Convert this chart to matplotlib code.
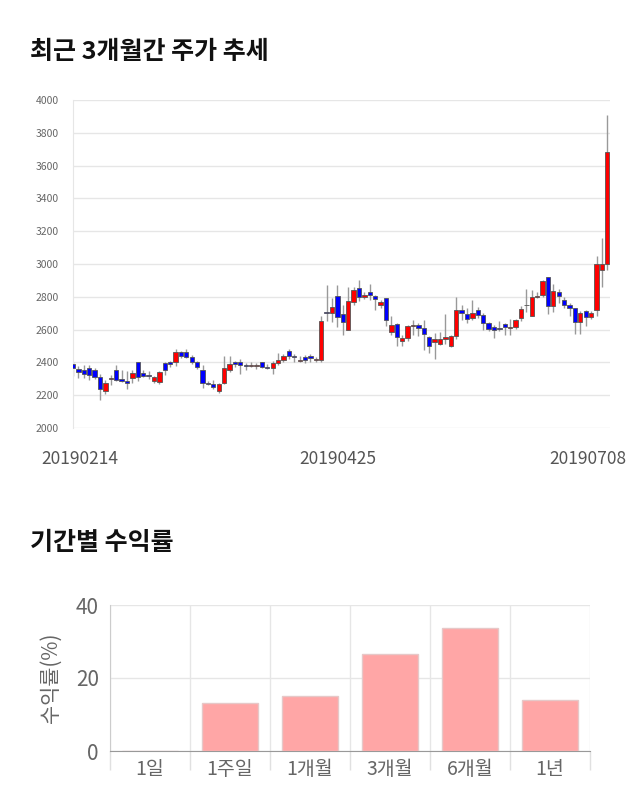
import matplotlib
matplotlib.use("Agg")
import matplotlib.pyplot as plt
import matplotlib.transforms as mtransforms

plt.rcParams['font.family'] = ['Noto Sans CJK KR', 'DejaVu Sans']

# daily candles (open, close, high, low), 2019-02-14 .. 2019-07-08
opens = [2392, 2361, 2353, 2367, 2355, 2313, 2227, 2298, 2355, 2300,
         2288, 2302, 2402, 2337, 2325, 2284, 2282, 2398, 2404, 2402,
         2463, 2463, 2432, 2402, 2355, 2274, 2268, 2223, 2274, 2351,
         2402, 2402, 2384, 2380, 2378, 2402, 2373, 2365, 2396, 2412,
         2471, 2440, 2408, 2430, 2440, 2412, 2412, 2706, 2700, 2804,
         2694, 2599, 2771, 2853, 2796, 2832, 2804, 2747, 2794, 2583,
         2633, 2528, 2546, 2619, 2629, 2607, 2554, 2522, 2512, 2542,
         2501, 2558, 2719, 2694, 2668, 2717, 2690, 2641, 2617, 2611,
         2635, 2609, 2615, 2670, 2747, 2680, 2798, 2812, 2922, 2743,
         2830, 2779, 2751, 2729, 2648, 2715, 2676, 2721, 2962, 3000]
closes = [2366, 2341, 2327, 2321, 2308, 2237, 2274, 2302, 2290, 2288,
          2274, 2337, 2313, 2317, 2317, 2309, 2343, 2353, 2388, 2465,
          2436, 2432, 2402, 2371, 2274, 2268, 2248, 2268, 2365, 2388,
          2388, 2384, 2378, 2384, 2384, 2371, 2365, 2396, 2416, 2440,
          2436, 2430, 2416, 2414, 2424, 2418, 2654, 2700, 2739, 2676,
          2647, 2775, 2842, 2796, 2808, 2812, 2786, 2771, 2660, 2629,
          2556, 2550, 2623, 2625, 2607, 2572, 2503, 2542, 2542, 2554,
          2558, 2717, 2702, 2662, 2700, 2692, 2641, 2603, 2599, 2605,
          2613, 2615, 2660, 2727, 2753, 2798, 2806, 2895, 2743, 2834,
          2802, 2751, 2731, 2648, 2702, 2676, 2704, 3003, 3003, 3683]
highs = [2405, 2375, 2385, 2385, 2365, 2330, 2295, 2325, 2385, 2355,
         2350, 2355, 2402, 2355, 2345, 2320, 2345, 2405, 2410, 2480,
         2470, 2480, 2445, 2410, 2385, 2285, 2290, 2275, 2440, 2440,
         2410, 2420, 2395, 2400, 2395, 2405, 2390, 2410, 2455, 2450,
         2480, 2450, 2440, 2445, 2450, 2430, 2685, 2870, 2795, 2870,
         2750, 2860, 2860, 2905, 2830, 2880, 2810, 2780, 2794, 2680,
         2640, 2570, 2625, 2660, 2640, 2660, 2560, 2580, 2585, 2696,
         2570, 2800, 2750, 2730, 2780, 2740, 2700, 2645, 2625, 2650,
         2640, 2665, 2665, 2745, 2845, 2840, 2830, 2900, 2922, 2875,
         2850, 2800, 2760, 2730, 2715, 2720, 2715, 3050, 3159, 3909]
lows = [2315, 2305, 2305, 2295, 2300, 2172, 2210, 2265, 2285, 2280,
        2240, 2275, 2285, 2310, 2300, 2275, 2270, 2325, 2370, 2375,
        2425, 2425, 2390, 2360, 2245, 2260, 2240, 2215, 2270, 2340,
        2370, 2330, 2355, 2370, 2360, 2365, 2360, 2330, 2385, 2400,
        2420, 2405, 2400, 2395, 2405, 2405, 2405, 2650, 2645, 2615,
        2565, 2595, 2750, 2775, 2785, 2780, 2720, 2730, 2620, 2570,
        2500, 2500, 2530, 2570, 2560, 2475, 2460, 2420, 2505, 2510,
        2495, 2545, 2660, 2640, 2660, 2670, 2600, 2590, 2550, 2590,
        2570, 2570, 2605, 2655, 2705, 2680, 2790, 2800, 2695, 2710,
        2760, 2730, 2680, 2575, 2575, 2620, 2665, 2680, 2860, 2963]
date_ticks = [0, 49, 99]
date_labels = ["20190214", "20190425", "20190708"]

periods = ["1일", "1주일", "1개월", "3개월", "6개월", "1년"]
returns = [0, 13.2, 15.1, 26.6, 33.7, 14.0]

fig = plt.figure(figsize=(6.4, 8.1), dpi=100)

# ---- price chart ----
fig.text(30 / 640, 1 - 52 / 810, "최근 3개월간 주가 추세", fontsize=18,
         fontweight='bold', va='center', ha='left', color='#111111')
ax = fig.add_axes([73 / 640, 1 - 428 / 810, 537 / 640, 328 / 810])
idx = list(range(len(opens)))
up = [c >= o for o, c in zip(opens, closes)]
colors = ['#ff0000' if u else '#0000ff' for u in up]
ax.vlines(idx, lows, highs, color='#999999', linewidth=1, zorder=2)
bottoms = [min(o, c) for o, c in zip(opens, closes)]
heights = [max(abs(c - o), 6) for o, c in zip(opens, closes)]
ax.bar(idx, heights, bottom=bottoms, width=0.8, color=colors,
       edgecolor='#555555', linewidth=0.6, zorder=3)
ax.set_xlim(0, 99.5)
ax.set_ylim(2000, 4000)
ax.set_yticks(range(2000, 4001, 200))
ax.tick_params(axis='y', length=0, labelsize=7.5, colors='#666666', pad=10)
ax.grid(axis='y', color='#e6e6e6', linewidth=1)
ax.set_axisbelow(True)
for s in ['top', 'right', 'bottom']:
    ax.spines[s].set_visible(False)
ax.spines['left'].set_color('#e6e6e6')
ax.set_xticks(date_ticks)
ax.set_xticklabels(date_labels)
ax.tick_params(axis='x', length=0, labelsize=12.5, colors='#555555', pad=16)
xl = ax.get_xticklabels()
xl[0].set_transform(xl[0].get_transform() + mtransforms.ScaledTranslation(7 / 100, 0, fig.dpi_scale_trans))
xl[-1].set_transform(xl[-1].get_transform() + mtransforms.ScaledTranslation(-19 / 100, 0, fig.dpi_scale_trans))

# ---- returns chart ----
fig.text(30 / 640, 1 - 543 / 810, "기간별 수익률", fontsize=18,
         fontweight='bold', va='center', ha='left', color='#111111')
bx = fig.add_axes([110 / 640, 1 - 751 / 810, 480 / 640, 146 / 810])
bx.bar(range(len(periods)), returns, width=0.7, color='#ffa6a6',
       edgecolor='#e6c8c8', linewidth=1, zorder=3)
bx.set_xlim(-0.5, len(periods) - 0.5)
bx.set_ylim(0, 40)
bx.set_yticks([0, 20, 40])
bx.set_xticks(range(len(periods)))
bx.set_xticklabels(periods)
bx.set_xticks([i - 0.5 for i in range(len(periods) + 1)], minor=True)
bx.tick_params(axis='x', which='major', length=0, labelsize=14, colors='#666666', pad=6)
bx.tick_params(axis='x', which='minor', length=14, color='#e0e0e0', width=1)
bx.tick_params(axis='y', length=0, labelsize=15, colors='#666666', pad=8)
bx.grid(axis='y', color='#e6e6e6', linewidth=1)
bx.grid(axis='x', which='minor', color='#e6e6e6', linewidth=1)
bx.set_axisbelow(True)
for s in ['top', 'right']:
    bx.spines[s].set_visible(False)
bx.spines['left'].set_color('#cccccc')
bx.spines['bottom'].set_color('#999999')
bx.set_ylabel("수익률(%)", fontsize=15, color='#666666', labelpad=10)

fig.savefig("out.png", dpi=100, facecolor='white')
